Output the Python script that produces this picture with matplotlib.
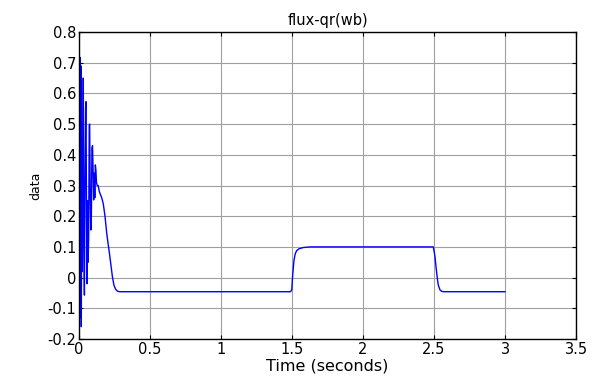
import matplotlib
matplotlib.use("Agg")
import matplotlib.pyplot as plt

plt.rcParams['font.family'] = ['DejaVu Sans']

# Signal samples
t_vals = [0.000, 0.007, 0.010, 0.013, 0.016, 0.020, 0.023, 0.027, 0.030, 0.034,
          0.038, 0.042, 0.046, 0.049, 0.053, 0.057, 0.061, 0.064, 0.068, 0.072,
          0.075, 0.079, 0.083, 0.087, 0.091, 0.095, 0.099, 0.103, 0.107, 0.111,
          0.115, 0.119, 0.123, 0.128, 0.135, 0.143, 0.160, 0.171, 0.183, 0.195,
          0.205, 0.214, 0.225, 0.235, 0.246, 0.258, 0.270, 0.285, 0.30,
          1.490, 1.498, 1.505, 1.514, 1.523, 1.533, 1.550, 1.580, 1.627,
          2.495, 2.501, 2.507, 2.513, 2.519, 2.525, 2.530, 2.542, 2.555, 2.570, 3.000]
flux = [0.000, 0.717, -0.13, 0.690, -0.16, 0.450, 0.020, 0.400, 0.650, 0.100,
        -0.057, 0.300, 0.550, 0.573, 0.200, -0.020, 0.250, 0.050, 0.130, 0.497,
        0.500, 0.270, 0.155, 0.200, 0.420, 0.430, 0.350, 0.253, 0.340, 0.260,
        0.367, 0.350, 0.310, 0.300, 0.300, 0.280, 0.260, 0.240, 0.200, 0.145,
        0.110, 0.080, 0.040, 0.003, -0.025, -0.038, -0.044, -0.046, -0.046,
        -0.046, -0.040, 0.010, 0.057, 0.078, 0.088, 0.094, 0.098, 0.100,
        0.100, 0.085, 0.068, 0.040, 0.015, -0.008, -0.024, -0.040, -0.045, -0.046, -0.046]

x_ticks = [0, 0.5, 1, 1.5, 2, 2.5, 3, 3.5]
x_tick_labels = ['0', '0.5', '1', '1.5', '2', '2.5', '3', '3.5']
y_ticks = [-0.2, -0.1, 0, 0.1, 0.2, 0.3, 0.4, 0.5, 0.6, 0.7, 0.8]
y_tick_labels = ['-0.2', '-0.1', '0', '0.1', '0.2', '0.3', '0.4', '0.5', '0.6', '0.7', '0.8']

fig = plt.figure(figsize=(6.0, 3.83), dpi=100)
ax = fig.add_axes([0.1317, 0.1149, 0.8283, 0.8015])

ax.plot(t_vals, flux, color='#0000ff', linewidth=1.0)

ax.set_xlim(0, 3.5)
ax.set_ylim(-0.2, 0.8)
ax.set_xticks(x_ticks)
ax.set_xticklabels(x_tick_labels)
ax.set_yticks(y_ticks)
ax.set_yticklabels(y_tick_labels)
ax.grid(True, color='#a0a0a0', linewidth=0.8, linestyle='-')
ax.set_axisbelow(True)
ax.tick_params(direction='in', top=True, right=True, labelsize=10.5, length=3,
               colors='black', pad=2)
for s in ax.spines.values():
    s.set_linewidth(1.0)
    s.set_color('black')

ax.set_title('flux-qr(wb)', fontsize=10.5, pad=5)
ax.set_xlabel('Time (seconds)', fontsize=11.5, labelpad=1)
ax.set_ylabel('data', fontsize=9, labelpad=4)

fig.savefig('out.png', dpi=100)
